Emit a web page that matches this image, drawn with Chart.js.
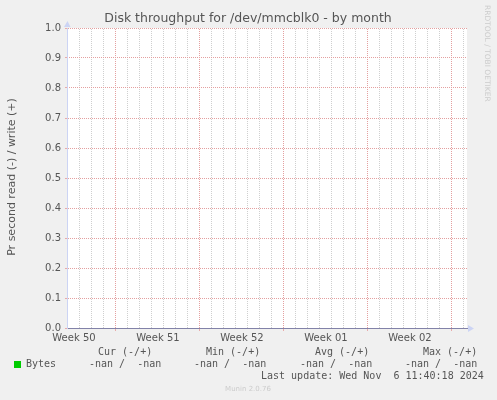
<!DOCTYPE html>
<html>
<head>
<meta charset="utf-8">
<script src="https://cdn.jsdelivr.net/npm/chart.js@4"></script>
<style>
  body { margin: 0; background: #f0f0f0; }
  canvas { display: block; }
</style>
</head>
<body>
<canvas id="chartDisk" width="497" height="400"></canvas>
<script>
// x axis is in days from the left edge of the graph
var weekLabels = ["Week 50", "Week 51", "Week 52", "Week 01", "Week 02"];
var weekLabelDays = [0.58, 7.58, 14.58, 21.58, 28.58];
var weekStartDays = [4, 11, 18, 25, 32];
var days = [0, 1, 2, 3, 4, 5, 6, 7, 8, 9, 10, 11, 12, 13, 14, 15, 16,
            17, 18, 19, 20, 21, 22, 23, 24, 25, 26, 27, 28, 29, 30, 31, 32, 33];
var xMaxDays = 33.3333;
// no data recorded: every sample is nan
var readValues = [null, null, null, null, null, null, null, null, null, null, null, null,
                  null, null, null, null, null, null, null, null, null, null, null, null,
                  null, null, null, null, null, null, null, null, null, null];
var writeValues = readValues.slice();
var yMax = 1.0;
var yStep = 0.1;

var legendHeaders = ["Cur (-/+)", "Min (-/+)", "Avg (-/+)", "Max (-/+)"];
var legendValues = ["-nan /  -nan", "-nan /  -nan", "-nan /  -nan", "-nan /  -nan"];
var seriesName = "Bytes";
var lastUpdate = "Last update: Wed Nov  6 11:40:18 2024";
var titleText = "Disk throughput for /dev/mmcblk0 - by month";
var yTitle = "Pr second read (-) / write (+)";

function isLabelTick(v) {
  return weekLabelDays.findIndex((d) => Math.abs(d - v) < 0.01);
}

// dotted line look: a 2x2 checker pattern anchored to the canvas
function dotPattern(color) {
  const c = document.createElement("canvas");
  c.width = 2;
  c.height = 2;
  const g = c.getContext("2d");
  g.fillStyle = color;
  g.fillRect(0, 0, 1, 1);
  g.fillRect(1, 1, 1, 1);
  return g.createPattern(c, "repeat");
}
var majorDots = dotPattern("#e4a0a0");
var minorDots = dotPattern("#cfcfcf");

var muninText = {
  id: "muninText",
  beforeDraw(chart) {
    const ctx = chart.ctx;
    const a = chart.chartArea;
    ctx.save();
    ctx.fillStyle = "#ffffff";
    ctx.fillRect(a.left, a.top, a.right - a.left, a.bottom - a.top);
    ctx.restore();
  },
  afterDraw(chart) {
    const ctx = chart.ctx;
    const a = chart.chartArea;
    ctx.save();
    // arrows on the axes
    ctx.fillStyle = "#ccd4f4";
    ctx.beginPath();
    ctx.moveTo(a.left - 3, a.top - 1);
    ctx.lineTo(a.left + 3.5, a.top - 1);
    ctx.lineTo(a.left + 0.5, a.top - 7);
    ctx.fill();
    ctx.beginPath();
    ctx.moveTo(a.right + 1, a.bottom - 3);
    ctx.lineTo(a.right + 1, a.bottom + 4);
    ctx.lineTo(a.right + 7, a.bottom + 0.5);
    ctx.fill();

    ctx.fillStyle = "#555555";
    ctx.textBaseline = "middle";
    ctx.font = "12.5px 'DejaVu Sans'";
    ctx.textAlign = "center";
    ctx.fillText(titleText, 248, 19);

    ctx.save();
    ctx.translate(12, 177);
    ctx.rotate(-Math.PI / 2);
    ctx.font = "11px 'DejaVu Sans'";
    ctx.fillText(yTitle, 0, 0);
    ctx.restore();

    ctx.save();
    ctx.translate(487, 5);
    ctx.rotate(Math.PI / 2);
    ctx.textAlign = "left";
    ctx.fillStyle = "#cccccc";
    ctx.font = "7.5px 'DejaVu Sans'";
    ctx.fillText("RRDTOOL / TOBI OETIKER", 0, 0);
    ctx.restore();

    ctx.font = "10px 'DejaVu Sans Mono'";
    ctx.textAlign = "left";
    ctx.fillStyle = "#555555";
    const headX = [98, 206, 315, 423];
    const valX = [89, 194, 300, 405];
    legendHeaders.forEach((h, i) => ctx.fillText(h, headX[i], 352));
    legendValues.forEach((v, i) => ctx.fillText(v, valX[i], 364));
    ctx.fillText(seriesName, 26, 364);
    ctx.fillText(lastUpdate, 261, 376);

    ctx.fillStyle = "#00cc00";
    ctx.fillRect(14, 361, 7, 7);

    ctx.fillStyle = "#cccccc";
    ctx.font = "7px 'DejaVu Sans'";
    ctx.textAlign = "center";
    ctx.fillText("Munin 2.0.76", 248, 389);
    ctx.restore();
  },
};

var ctx1 = document.getElementById("chartDisk").getContext("2d");
window.chartDisk = new Chart(ctx1, {
  type: "line",
  data: {
    datasets: [
      {
        label: "Bytes read",
        data: days.map((d, i) => ({ x: d, y: readValues[i] })),
        borderColor: "#00cc00",
        borderWidth: 1,
        pointRadius: 0,
      },
      {
        label: "Bytes write",
        data: days.map((d, i) => ({ x: d, y: writeValues[i] })),
        borderColor: "#00cc00",
        borderWidth: 1,
        pointRadius: 0,
      },
    ],
  },
  options: {
    responsive: false,
    animation: false,
    layout: { padding: { top: 28, right: 30, left: 0, bottom: 0 } },
    plugins: {
      legend: { display: false },
      tooltip: { enabled: false },
      title: { display: false },
    },
    scales: {
      x: {
        type: "linear",
        min: 0,
        max: xMaxDays,
        afterFit: (scale) => { scale.height = 72; },
        afterBuildTicks: (scale) => {
          const t = days.map((d) => ({ value: d })).concat(weekLabelDays.map((d) => ({ value: d })));
          t.sort((p, q) => p.value - q.value);
          scale.ticks = t;
        },
        grid: {
          color: (c) => {
            const v = c.tick ? c.tick.value : 0;
            if (isLabelTick(v) >= 0) return "rgba(0,0,0,0)";
            if (weekStartDays.indexOf(v) >= 0) return majorDots;
            return minorDots;
          },
          tickColor: (c) => {
            const v = c.tick ? c.tick.value : 0;
            return weekStartDays.indexOf(v) >= 0 ? "#e8aaaa" : "rgba(0,0,0,0)";
          },
          tickLength: 3,
          drawTicks: true,
        },
        border: { display: true, color: "#8282a8", width: 1 },
        ticks: {
          autoSkip: false,
          maxRotation: 0,
          padding: 1,
          color: "#555555",
          font: { family: "DejaVu Sans", size: 10 },
          callback: (v) => {
            const i = isLabelTick(v);
            return i >= 0 ? weekLabels[i] : "";
          },
        },
      },
      y: {
        min: 0,
        max: yMax,
        afterFit: (scale) => { scale.width = 67; },
        grid: {
          color: majorDots,
          tickColor: "#e8aaaa",
          tickLength: 2,
        },
        border: { display: true, color: "#ccd4f4", width: 1 },
        ticks: {
          stepSize: yStep,
          padding: 4,
          color: "#555555",
          font: { family: "DejaVu Sans", size: 10 },
          callback: (v) => v.toFixed(1),
        },
      },
    },
  },
  plugins: [muninText],
});
</script>
</body>
</html>
